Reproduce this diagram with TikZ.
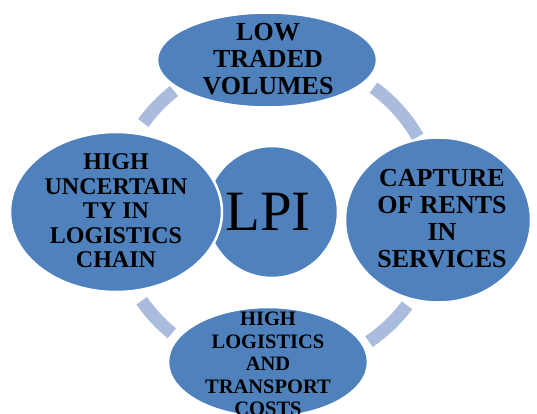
\documentclass[tikz,border=0pt]{standalone}
\usepackage{fontspec}
\setmainfont{Liberation Serif}
\usetikzlibrary{shapes.geometric}
\definecolor{ringblue}{RGB}{170,188,221}
\definecolor{blobblue}{RGB}{79,129,189}
\tikzset{blob/.style = {ellipse, fill = blobblue, draw = white, line width = 2.5pt, inner sep = 0}}
\tikzset{blobtext/.style = {align = center, inner sep = 0, font = \bfseries\fontsize{26}{27}\selectfont}}
\tikzset{ring/.style = {ringblue, line width = 13pt}}

\begin{document}
\begin{tikzpicture}[x = 1pt, y = -1pt]
      \useasboundingbox (0, 0) rectangle (537, 413);
      \clip (0, 0) rectangle (537, 413);

      % pieces of the ring between the outer ellipses
      \foreach \a/\b in {-53/-29, 36/55, 130/146, 215/231}
        \draw [ring, shift = {(276, 213)}] (\a:162 and 157)
          arc [start angle = \a, end angle = \b, x radius = 162, y radius = 157];

      \node [blob, circle, minimum size = 132] (lpi) at (272, 212) {};
      \node [blob, minimum width = 220, minimum height = 95] (low) at (267, 60) {};
      \node [blob, minimum width = 186, minimum height = 165] (rents) at (438, 220) {};
      \node [blob, minimum width = 200, minimum height = 110] (costs) at (268, 362) {};
      \node [blob, minimum width = 212, minimum height = 160] (chain) at (116, 212) {};

      \node [font = \fontsize{57}{60}\selectfont] (lpitext) at (268, 212) {LPI};
      \node [blobtext] (lowtext) at (268, 59) {LOW\\TRADED\\VOLUMES};
      \node [blobtext] (rentstext) at (442, 219) {CAPTURE\\OF RENTS\\IN\\SERVICES};
      \node [blobtext, font = \bfseries\fontsize{24}{24.5}\selectfont] (chaintext) at (116, 211) {HIGH\\UNCERTAIN\\TY IN\\LOGISTICS\\CHAIN};
      \node [blobtext, font = \bfseries\fontsize{20.5}{22.5}\selectfont] (coststext) at (268, 364) {HIGH\\LOGISTICS\\AND\\TRANSPORT\\COSTS};
    \end{tikzpicture}
\end{document}
